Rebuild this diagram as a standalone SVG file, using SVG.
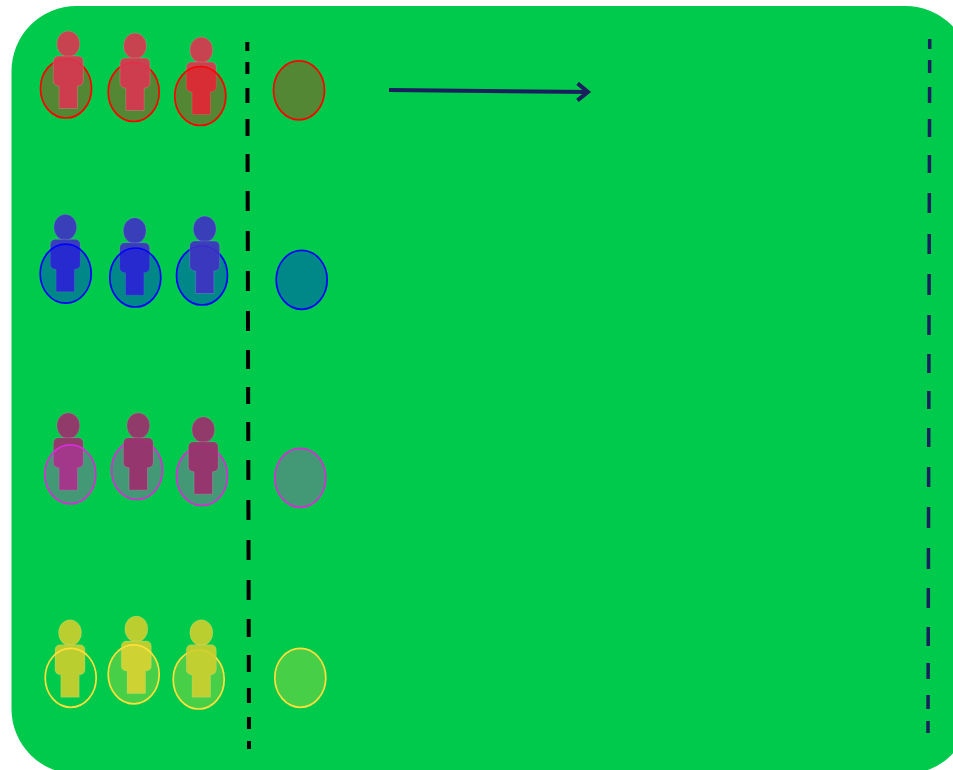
<svg xmlns="http://www.w3.org/2000/svg" xmlns:xlink="http://www.w3.org/1999/xlink" width="953" height="770" viewBox="0 0 953 770">
<style>
.person{opacity:.9;stroke-width:1;stroke-opacity:.16;stroke:#fff}
.e{stroke-width:1.7}
.r{fill:#dc3550}.b{fill:#4030c4}.m{fill:#a02c6e}.y{fill:#d0cf2e}
.er{stroke:#f00;fill:rgba(255,0,0,.33)}
.eb{stroke:#00f;fill:rgba(0,0,255,.33)}
.em{stroke:#d42fd4;fill:rgba(204,51,204,.33)}
.ey{stroke:#ffdf3c;fill:rgba(255,223,60,.28)}
.dashL{fill:none;stroke:#000;stroke-width:4}
.dashR{fill:none;stroke:#1a1f5e;stroke-width:3.500}
</style>
<defs>
<g id="p">
<ellipse cx="0" cy="0" rx="11.5" ry="13"/>
<path d="M-10 12H10a5 5 0 0 1 5 5V37a5 5 0 0 1-5 5H9.2V64.5H-9.2V42H-10a5 5 0 0 1-5-5V17a5 5 0 0 1 5-5Z"/>
</g>
<ellipse id="o" cx="0" cy="0" rx="25.5" ry="29.5"/>
<marker id="head" markerUnits="userSpaceOnUse" markerWidth="18" markerHeight="24" refX="13" refY="10" orient="auto">
<path d="M1.500 1.500L12 10L1.500 18.500" fill="none" stroke="#1a1f5e" stroke-width="4"/>
</marker>
</defs>
<rect id="panel" x="11.500" y="6" width="959" height="768" rx="65" ry="65" fill="#00ca4c"/>
<g id="connectors">
<path class="dashL" d="M247.300 42L249 749" stroke-dasharray="9 11 12 14 15 16 17 18 18 19 20 20 20 20 20 20 20 19 19 18 17 18 19 19 20 20 20 20 20 20 20 19 18 18 17 16 15 14 12 12 8"/>
<path class="dashR" d="M929.700 39L928 733" stroke-dasharray="10 11 13 14 16 16 18 18 18 20 20 21 20 20 21 20 20 19 19 18 18 19 19 20 20 20 21 20 21 19 20 19 19 17 16 16 14 12 12"/>
<path d="M389 90L589 92" fill="none" stroke="#1a1f5e" stroke-width="4" marker-end="url(#head)"/>
</g>
<g id="red-1"><use href="#o" class="e er" x="66" y="88.500"/><use href="#p" class="person r" x="68.300" y="44"/></g>
<g id="red-2"><use href="#o" class="e er" x="133.700" y="92"/><use href="#p" class="person r" x="135" y="46"/></g>
<g id="red-3"><use href="#p" class="person r" x="201.300" y="50"/><use href="#o" class="e er" x="200.300" y="96"/></g>
<g id="red-4"><use href="#o" class="e er" x="299" y="90.300"/></g>
<g id="blue-1"><use href="#p" class="person b" x="65.300" y="227.300"/><use href="#o" class="e eb" x="65.700" y="273.700"/></g>
<g id="blue-2"><use href="#p" class="person b" x="134.700" y="230.700"/><use href="#o" class="e eb" x="135.300" y="277.500"/></g>
<g id="blue-3"><use href="#o" class="e eb" x="202" y="275.500"/><use href="#p" class="person b" x="204.700" y="229"/></g>
<g id="blue-4"><use href="#o" class="e eb" x="301.700" y="279.800"/></g>
<g id="magenta-1"><use href="#p" class="person m" x="68.300" y="425.700"/><use href="#o" class="e em" x="70.300" y="474.300"/></g>
<g id="magenta-2"><use href="#o" class="e em" x="137" y="470"/><use href="#p" class="person m" x="138.300" y="425.700"/></g>
<g id="magenta-3"><use href="#o" class="e em" x="202" y="476"/><use href="#p" class="person m" x="203.300" y="429.700"/></g>
<g id="magenta-4"><use href="#o" class="e em" x="300.300" y="477.800"/></g>
<g id="yellow-1"><use href="#p" class="person y" x="70" y="632.700"/><use href="#o" class="e ey" x="70.700" y="677.800" style="fill:none"/></g>
<g id="yellow-2"><use href="#p" class="person y" x="136.300" y="629"/><use href="#o" class="e ey" x="133.700" y="674.300"/></g>
<g id="yellow-3"><use href="#o" class="e ey" x="198.700" y="679.500"/><use href="#p" class="person y" x="201.300" y="632.700"/></g>
<g id="yellow-4"><use href="#o" class="e ey" x="300.300" y="677.800"/></g>
</svg>
